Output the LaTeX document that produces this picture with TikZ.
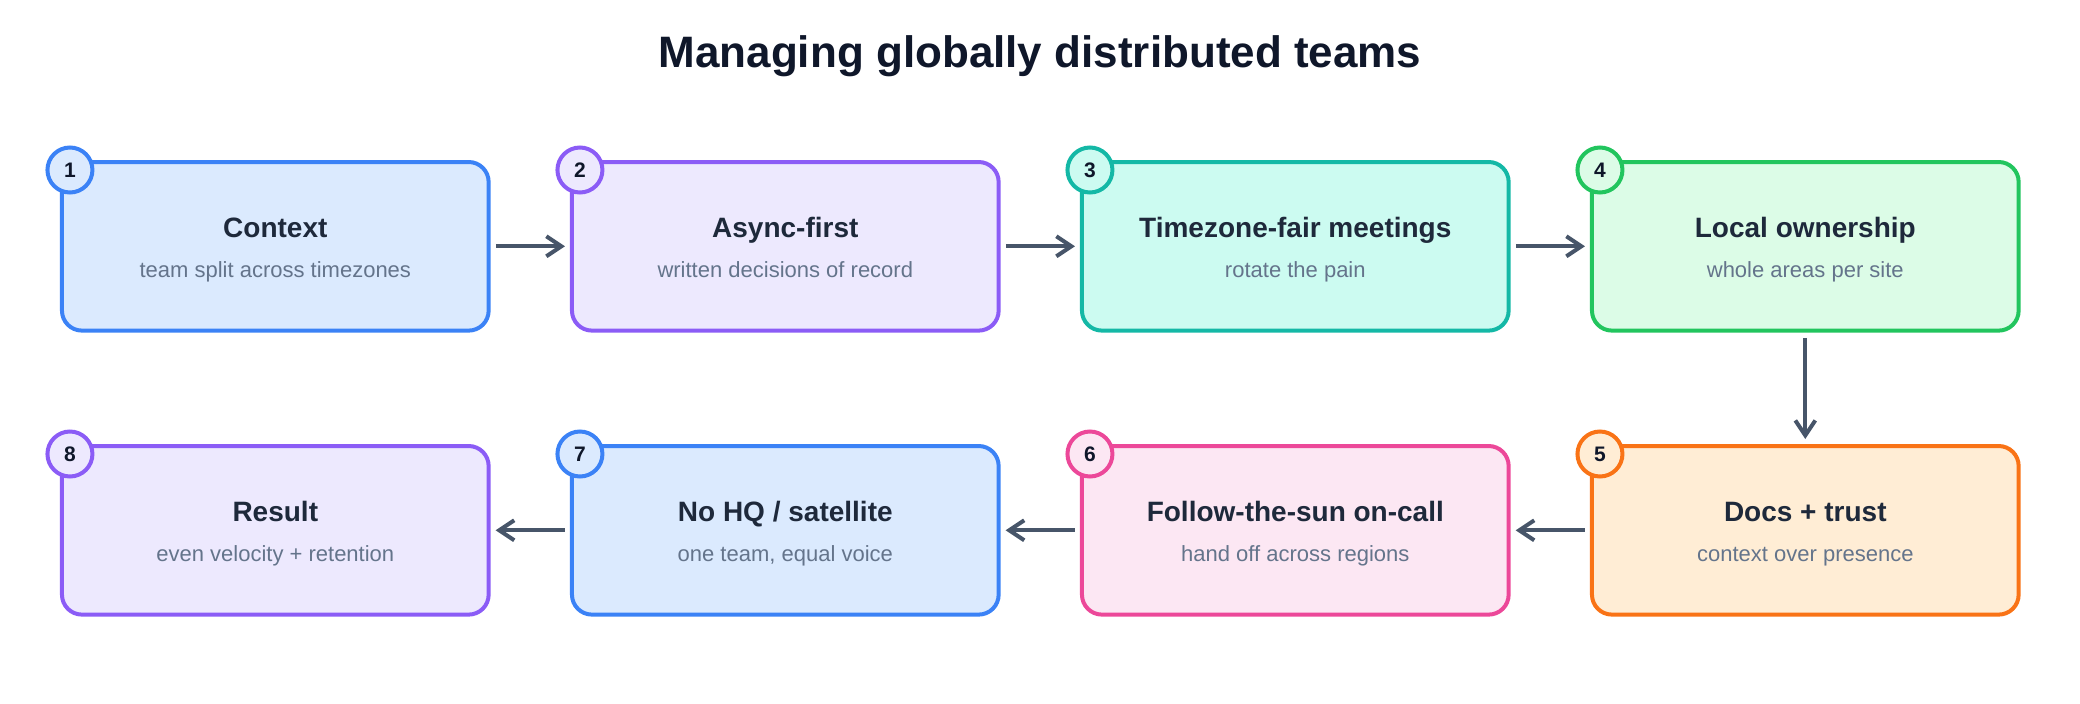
\documentclass[tikz,border=0pt]{standalone}
\usepackage{fontspec}
\setmainfont{Liberation Sans}
\usetikzlibrary{arrows.meta}
\definecolor{ttl}{HTML}{0F172A}
\definecolor{btl}{HTML}{1E293B}
\definecolor{sub}{HTML}{64748B}
\definecolor{arrc}{HTML}{475569}
\definecolor{blueS}{HTML}{3B82F6}\definecolor{blueF}{HTML}{DBEAFE}
\definecolor{purS}{HTML}{8B5CF6}\definecolor{purF}{HTML}{EDE9FE}
\definecolor{tealS}{HTML}{14B8A6}\definecolor{tealF}{HTML}{CCFBF1}
\definecolor{grnS}{HTML}{22C55E}\definecolor{grnF}{HTML}{DCFCE7}
\definecolor{orS}{HTML}{F97316}\definecolor{orF}{HTML}{FFEDD5}
\definecolor{pinkS}{HTML}{EC4899}\definecolor{pinkF}{HTML}{FCE7F3}
\tikzset{
  card/.style 2 args={draw=#1, fill=#2, line width=4pt, rounded corners=20pt,
    minimum width=426.7pt, minimum height=168.6pt, inner sep=0pt},
  badge/.style 2 args={circle, draw=#1, fill=#2, line width=4pt, minimum size=45pt,
    inner sep=0pt, text=ttl, font=\fontsize{21}{24}\selectfont\bfseries},
  cardtitle/.style={anchor=base, text=btl, font=\fontsize{28}{32}\selectfont\bfseries},
  cardsub/.style={anchor=base, text=sub, font=\fontsize{22}{26}\selectfont},
  arr/.style={draw=arrc, line width=4pt, -{Straight Barb[length=15pt,width=20pt,line width=4pt]},
    shorten <=5.3pt, shorten >=5pt},
}
\newcommand{\mycard}[8]{%
  \node[card={#4}{#5}] (#1) at (#2,#3) {};
  \node[badge={#4}{#5}] (#1n) at ([xshift=10pt,yshift=-10pt]#1.north west) {#6};
  \node[cardtitle] (#1t) at ([yshift=8.5pt]#1.center) {#7};
  \node[cardsub] (#1s) at ([yshift=-31.5pt]#1.center) {#8};
}
\begin{document}
\begin{tikzpicture}[x=1pt,y=-1pt]
\useasboundingbox (0,0) rectangle (2080,704);
\node[anchor=base, text=ttl, font=\fontsize{44}{52}\selectfont\bfseries] (title) at (1040,67) {Managing globally distributed teams};
\mycard{b1}{275.3}{246.3}{blueS}{blueF}{1}{Context}{team split across timezones}
\mycard{b2}{785.3}{246.3}{purS}{purF}{2}{Async-first}{written decisions of record}
\mycard{b3}{1295.3}{246.3}{tealS}{tealF}{3}{Timezone-fair meetings}{rotate the pain}
\mycard{b4}{1805.3}{246.3}{grnS}{grnF}{4}{Local ownership}{whole areas per site}
\mycard{b5}{1805.3}{530.3}{orS}{orF}{5}{Docs + trust}{context over presence}
\mycard{b6}{1295.3}{530.3}{pinkS}{pinkF}{6}{Follow-the-sun on-call}{hand off across regions}
\mycard{b7}{785.3}{530.3}{blueS}{blueF}{7}{No HQ / satellite}{one team, equal voice}
\mycard{b8}{275.3}{530.3}{purS}{purF}{8}{Result}{even velocity + retention}
\draw[arr] (b1) -- (b2);
\draw[arr] (b2) -- (b3);
\draw[arr] (b3) -- (b4);
\draw[arr] (b4) -- (b5);
\draw[arr] (b5) -- (b6);
\draw[arr] (b6) -- (b7);
\draw[arr] (b7) -- (b8);
\end{tikzpicture}
\end{document}
